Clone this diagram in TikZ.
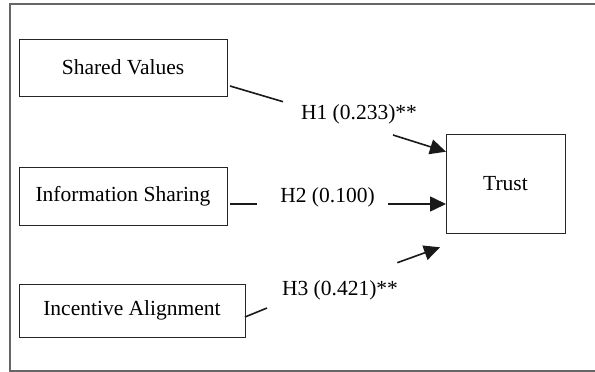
\documentclass[tikz,border=0pt]{standalone}
\usepackage{fontspec}
\setmainfont{Liberation Serif}
\usetikzlibrary{arrows.meta}
\begin{document}
\begin{tikzpicture}[x=1pt,y=-1pt,
  every node/.style={font=\fontsize{21.5}{25}\selectfont},
  construct/.style={draw=black!85,line width=1pt,inner sep=0pt,rectangle},
  pathlabel/.style={anchor=base,inner sep=0pt},
  link/.style={line width=1.6pt,black!90},
  effect/.style={link,-{Triangle[length=16pt,width=15pt]}},
  frame/.style={draw=black!60,line width=1.5pt}]
\useasboundingbox (0,0) rectangle (595,372);
% open frame around the model
\draw[frame] (595,4) -- (10,4) -- (10,371) -- (595,371);

% constructs
\node[construct,minimum width=208pt,minimum height=57pt] (sv) at (123,67.5) {Shared Values};
\node[construct,minimum width=208pt,minimum height=58pt] (is) at (123,196) {Information Sharing};
\node[construct,minimum width=226pt,minimum height=53pt] (ia) at (132,310.5) {Incentive Alignment};
\node[construct,minimum width=119pt,minimum height=99pt] (tr) at (505.5,183.5) {Trust};

% path coefficients
\node[pathlabel] (h1) at (359,119) {H1 (0.233)**};
\node[pathlabel] (h2) at (327.5,202) {H2 (0.100)};
\node[pathlabel] (h3) at (340,295) {H3 (0.421)**};

% segment ends of each path
\coordinate (a1) at (230,86);    \coordinate (b1) at (283,101.7);
\coordinate (c1) at (393,135);   \coordinate (d1) at (446,151.7);
\coordinate (a2) at (230,204);   \coordinate (b2) at (257,204);
\coordinate (c2) at (388,204);   \coordinate (d2) at (446,204);
\coordinate (a3) at (245,317);   \coordinate (b3) at (267,308);
\coordinate (c3) at (397.3,262.7); \coordinate (d3) at (440,247.3);

% paths
\draw[link] (a1) -- (b1);
\draw[effect] (c1) -- (d1);
\draw[link] (a2) -- (b2);
\draw[effect] (c2) -- (d2);
\draw[link] (a3) -- (b3);
\draw[effect] (c3) -- (d3);
\end{tikzpicture}
\end{document}
